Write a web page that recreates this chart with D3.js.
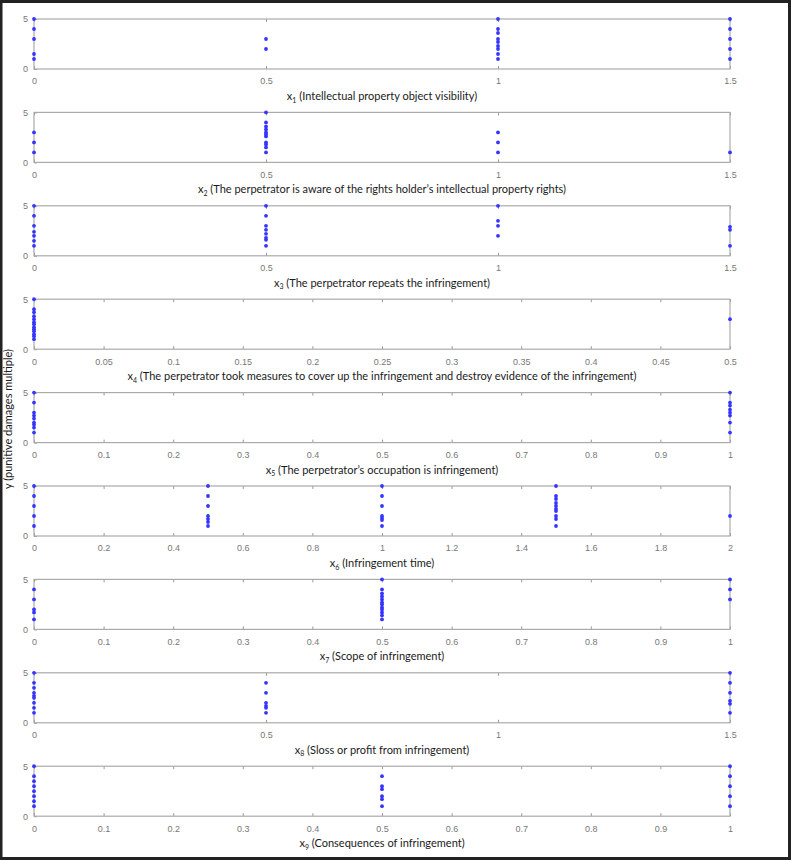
<!DOCTYPE html>
<html>
<head>
<meta charset="utf-8">
<script src="https://cdn.jsdelivr.net/npm/d3@7"></script>
<style>
  body { margin: 0; background: #fff; }
  svg { display: block; }
</style>
</head>
<body>
<div class="external"></div>
<script>
// Data: y (punitive damages multiple) observed at each level of x
const labels = [
  'Intellectual property object visibility',
  'The perpetrator is aware of the rights holder\u2019s intellectual property rights',
  'The perpetrator repeats the infringement',
  'The perpetrator took measures to cover up the infringement and destroy evidence of the infringement',
  'The perpetrator\u2019s occupation is infringement',
  'Infringement time',
  'Scope of infringement',
  'Sloss or profit from infringement',
  'Consequences of infringement'
]
const xMax = [1.5, 1.5, 1.5, 0.5, 1, 2, 1, 1.5, 1]
const xTicks = [
  [0, 0.5, 1, 1.5],
  [0, 0.5, 1, 1.5],
  [0, 0.5, 1, 1.5],
  [0, 0.05, 0.1, 0.15, 0.2, 0.25, 0.3, 0.35, 0.4, 0.45, 0.5],
  [0, 0.1, 0.2, 0.3, 0.4, 0.5, 0.6, 0.7, 0.8, 0.9, 1],
  [0, 0.2, 0.4, 0.6, 0.8, 1, 1.2, 1.4, 1.6, 1.8, 2],
  [0, 0.1, 0.2, 0.3, 0.4, 0.5, 0.6, 0.7, 0.8, 0.9, 1],
  [0, 0.5, 1, 1.5],
  [0, 0.1, 0.2, 0.3, 0.4, 0.5, 0.6, 0.7, 0.8, 0.9, 1]
]
// each entry: [x level, y values at that level]
const x1 = [[0, [5, 4, 3, 1.5, 1]], [0.5, [3, 2]], [1, [5, 4, 3.6, 3, 2.7, 2.3, 2, 1.5, 1]], [1.5, [5, 4, 3, 2, 1]]]
const x2 = [[0, [3, 2, 1]], [0.5, [5, 4, 3.6, 3.3, 3, 2.8, 2.6, 2, 1.8, 1.5, 1]], [1, [3, 2, 1]], [1.5, [1]]]
const x3 = [[0, [5, 4, 3, 2.4, 2, 1.5, 1]], [0.5, [5, 4, 3, 2.6, 2.2, 1.8, 1.6, 1]], [1, [5, 3.5, 3, 2]], [1.5, [2.9, 2.6, 1]]]
const x4 = [[0, [5, 4, 3.7, 3.3, 3, 2.7, 2.5, 2.2, 2, 1.8, 1.5, 1.3, 1]], [0.5, [3]]]
const x5 = [[0, [5, 4, 3, 2.7, 2.4, 2, 1.8, 1.5, 1]], [1, [5, 4, 3.7, 3.3, 3, 2.7, 2, 1]]]
const x6 = [[0, [5, 4, 3, 2, 1]], [0.5, [5, 4, 3, 2, 1.7, 1.4, 1]], [1, [5, 4, 3, 2, 1.8, 1.6, 1]], [1.5, [5, 4, 3.7, 3.3, 3, 2.7, 2.5, 2, 1.7, 1]], [2, [2]]]
const x7 = [[0, [4, 3, 2, 1.7, 1]], [0.5, [5, 4, 3.6, 3.3, 3, 2.7, 2.5, 2.2, 2, 1.7, 1.4, 1]], [1, [5, 4, 3]]]
const x8 = [[0, [5, 4, 3.5, 3, 2.7, 2.5, 2, 1.5, 1]], [0.5, [4, 3, 2, 1.7, 1.5, 1]], [1.5, [5, 4, 3, 2.2, 1.9, 1]]]
const x9 = [[0, [5, 4, 3.5, 3, 2.5, 2, 1.5, 1]], [0.5, [4, 3, 2.7, 2, 1.7, 1]], [1, [5, 4, 3, 2, 1]]]
const series = [x1, x2, x3, x4, x5, x6, x7, x8, x9]
const yTicks = [0, 5]

const width = 791, height = 860
const left = 34, right = 730, top0 = 19, step = 93.4, ph = 50

const svg = d3.select('.external').append('svg')
  .attr('width', width)
  .attr('height', height)
  .style('font-family', 'Lato, "Open Sans", sans-serif')

svg.append('rect')
  .attr('x', 1).attr('y', 1.5)
  .attr('width', width - 2.5).attr('height', height - 3)
  .attr('fill', '#fff')
  .attr('stroke', '#222')
  .attr('stroke-width', 3)

const y = d3.scaleLinear().domain([0, 5]).range([ph, 0])
const fmt = d => String(+d.toFixed(2))

series.forEach((s, i) => {
  const x = d3.scaleLinear().domain([0, xMax[i]]).range([left, right])
  const g = svg.append('g').attr('transform', `translate(0,${top0 + i * step})`)

  // ticks inside the box, top and bottom
  g.append('g')
    .attr('transform', `translate(0,${ph})`)
    .call(d3.axisBottom(x).tickValues(xTicks[i]).tickSize(-3).tickPadding(9).tickFormat(fmt))
    .call(a => a.select('.domain').remove())
  g.append('g')
    .call(d3.axisTop(x).tickValues(xTicks[i]).tickSize(-3).tickFormat(''))
    .call(a => a.select('.domain').remove())
  g.append('g')
    .attr('transform', `translate(${left},0)`)
    .call(d3.axisLeft(y).tickValues(yTicks).tickSize(-3).tickPadding(6).tickFormat(fmt))
    .call(a => a.select('.domain').remove())

  g.selectAll('.tick line').attr('stroke', '#999')
  g.selectAll('.tick text').attr('fill', '#777').style('font-size', '9px')

  g.append('rect')
    .attr('x', left).attr('y', 0)
    .attr('width', right - left).attr('height', ph)
    .attr('fill', 'none')
    .attr('stroke', '#aaa')
    .attr('stroke-width', 1.2)

  const pts = s.flatMap(([xv, ys]) => ys.map(v => [xv, v]))
  g.append('g')
    .attr('fill', '#3535ff')
    .selectAll('circle')
    .data(pts)
    .join('circle')
    .attr('cx', d => x(d[0]))
    .attr('cy', d => y(d[1]))
    .attr('r', 1.9)

  const t = g.append('text')
    .attr('x', (left + right) / 2)
    .attr('y', ph + 31)
    .attr('text-anchor', 'middle')
    .attr('fill', '#1a1a1a')
    .style('font-size', '11px')
  t.append('tspan').text('x')
  t.append('tspan').attr('dy', 2.5).style('font-size', '7px').text(i + 1)
  t.append('tspan').attr('dy', -2.5).text(` (${labels[i]})`)
})

svg.append('text')
  .attr('transform', 'translate(12,419) rotate(-90)')
  .attr('text-anchor', 'middle')
  .attr('fill', '#1a1a1a')
  .style('font-size', '11px')
  .text('y (punitive damages multiple)')
</script>
</body>
</html>
